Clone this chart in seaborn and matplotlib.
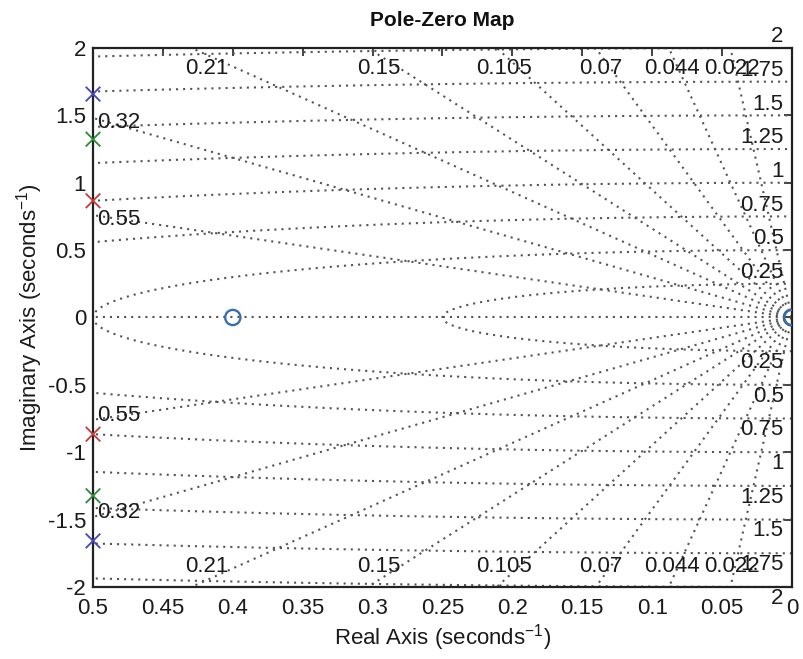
import numpy as np
import pandas as pd
import matplotlib
matplotlib.use("Agg")
import matplotlib.pyplot as plt
from matplotlib.ticker import FuncFormatter
import seaborn as sns

# ---- data ----
pole_re = [0.5, 0.5, 0.5, 0.5, 0.5, 0.5]
pole_im = [1.658, -1.658, 1.323, -1.323, 0.866, -0.866]
pole_group = ["p1", "p1", "p2", "p2", "p3", "p3"]
pole_colors = {"p1": "#4646b8", "p2": "#2f8a3a", "p3": "#c83c3c"}

zero_re = [0.4, 0.0]
zero_im = [0.0, 0.0]
zero_color = "#3a6fa8"

zeta_vals = [0.022, 0.044, 0.07, 0.105, 0.15, 0.21, 0.32, 0.55]
zeta_labels = ["0.022", "0.044", "0.07", "0.105", "0.15", "0.21", "0.32", "0.55"]
wn_vals = [0.25, 0.5, 0.75, 1.0, 1.25, 1.5, 1.75, 2.0]
wn_labels = ["0.25", "0.5", "0.75", "1", "1.25", "1.5", "1.75", "2"]

x_ticks = [0.5, 0.45, 0.4, 0.35, 0.3, 0.25, 0.2, 0.15, 0.1, 0.05, 0.0]
y_ticks = [-2, -1.5, -1, -0.5, 0, 0.5, 1, 1.5, 2]

title = "Pole-Zero Map"
xlabel = "Real Axis (seconds$^{-1}$)"
ylabel = "Imaginary Axis (seconds$^{-1}$)"

# ---- style ----
sns.set_style("white")
plt.rcParams["font.family"] = ["Liberation Sans", "DejaVu Sans"]
plt.rcParams["mathtext.fontset"] = "custom"
plt.rcParams["mathtext.rm"] = "Liberation Sans"
plt.rcParams["mathtext.default"] = "regular"

fig = plt.figure(figsize=(8.04, 6.59), dpi=100)
ax = fig.add_axes([0.1157, 0.1093, 0.985 - 0.1157, 0.9272 - 0.1093])

xmin, xmax = 0.5, 0.0
ymin, ymax = -2.0, 2.0

grid_kw = dict(color="#555555", lw=1.5, linestyle=(0, (1, 2.4)), zorder=1)

# natural frequency semicircles
th = np.linspace(-np.pi / 2, np.pi / 2, 800)
for wn in wn_vals:
    ax.plot(wn * np.cos(th), wn * np.sin(th), **grid_kw)

# damping rays
R = 10.0
for z in zeta_vals:
    s = np.sqrt(1 - z * z)
    ax.plot([0, R * z], [0, R * s], **grid_kw)
    ax.plot([0, R * z], [0, -R * s], **grid_kw)
# real axis
ax.plot([0, 1], [0, 0], **grid_kw)

txt_color = "#1a1a1a"
fs_lab = 16
for wn, lab in zip(wn_vals, wn_labels):
    ax.text(0.006, wn + 0.005, lab, ha="right", va="bottom", fontsize=fs_lab,
            color=txt_color, clip_on=False, zorder=3)
    ax.text(0.006, -wn - 0.005, lab, ha="right", va="top", fontsize=fs_lab,
            color=txt_color, clip_on=False, zorder=3)

for z, lab in zip(zeta_vals, zeta_labels):
    slope = np.sqrt(1 - z * z) / z
    y_left = xmin * slope
    if y_left < ymax:
        ax.text(0.497, y_left - 0.035, lab, ha="left", va="center", fontsize=fs_lab,
                color=txt_color, zorder=3)
        ax.text(0.497, -y_left + 0.035, lab, ha="left", va="center", fontsize=fs_lab,
                color=txt_color, zorder=3)
    else:
        xl = 1.95 / slope
        ax.text(xl, 1.85, lab, ha="center", va="center", fontsize=fs_lab,
                color=txt_color, zorder=3)
        ax.text(xl, -1.85, lab, ha="center", va="center", fontsize=fs_lab,
                color=txt_color, zorder=3)

# poles and zeros
poles = pd.DataFrame({"re": pole_re, "im": pole_im, "grp": pole_group})
sns.scatterplot(data=poles, x="re", y="im", hue="grp", palette=pole_colors,
                marker="x", s=110, linewidth=1.3, legend=False, ax=ax, zorder=4,
                clip_on=False)
sns.scatterplot(x=zero_re, y=zero_im, marker="o", s=120, fc="none",
                ec=zero_color, linewidth=1.7, legend=False, ax=ax, zorder=4)

ax.set_xlim(xmin, xmax)
ax.set_ylim(ymin, ymax)
ax.set_xticks(x_ticks)
ax.set_yticks(y_ticks)
ax.xaxis.set_major_formatter(FuncFormatter(lambda v, p: "%g" % round(v, 4)))
ax.yaxis.set_major_formatter(FuncFormatter(lambda v, p: "%g" % round(v, 4)))
ax.tick_params(direction="in", top=True, right=True, length=6, width=1.2,
               labelsize=16, color="#222222", labelcolor=txt_color)
ax.tick_params(axis="x", pad=8)
ax.tick_params(axis="y", pad=5)
for sp in ax.spines.values():
    sp.set_color("#222222")
    sp.set_linewidth(1.6)

ax.set_title(title, fontsize=15, fontweight="bold", pad=16, color="#111111")
ax.set_xlabel(xlabel, fontsize=16, color=txt_color, labelpad=2)
ax.set_ylabel(ylabel, fontsize=16, color=txt_color, labelpad=2)

fig.savefig("out.png", dpi=100)
